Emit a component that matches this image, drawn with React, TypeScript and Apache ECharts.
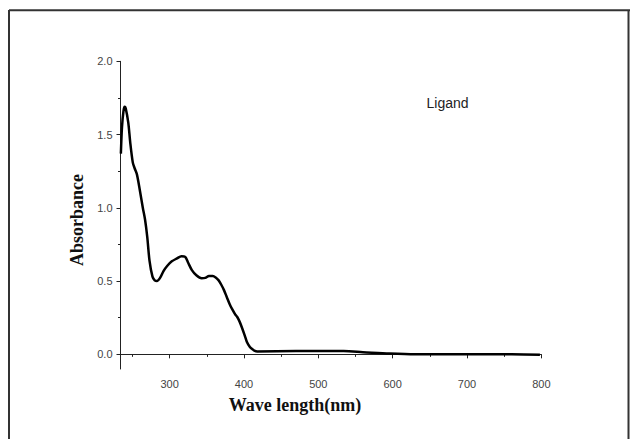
import React, { useEffect, useRef } from "react";
import * as echarts from "echarts";

const wavelengths = [
  234.5, 236, 238, 239.5, 241, 244.5, 247, 250.5, 253, 256,
  260, 264, 267, 270, 273, 277, 280, 283, 287, 292,
  297, 303, 310, 316, 321, 325, 330, 336, 343, 348,
  353, 358, 362, 366, 369, 373, 377, 381, 384, 388,
  391, 394, 397, 401, 404, 408, 411, 414, 418, 470,
  534, 560, 596, 630, 700, 760, 798,
];
const absorbance = [
  1.37, 1.55, 1.66, 1.69, 1.68, 1.58, 1.45, 1.31, 1.27, 1.23,
  1.12, 1.0, 0.92, 0.8, 0.64, 0.53, 0.505, 0.5, 0.52, 0.57,
  0.605, 0.635, 0.655, 0.67, 0.665, 0.625, 0.575, 0.54, 0.52, 0.522,
  0.535, 0.535, 0.525, 0.505, 0.48, 0.44, 0.39, 0.34, 0.31, 0.275,
  0.255, 0.225, 0.187, 0.13, 0.084, 0.05, 0.037, 0.025, 0.02, 0.022,
  0.022, 0.015, 0.005, 0.0, 0.0, 0.0, -0.002,
];
const xMajorTicks = [300, 400, 500, 600, 700, 800];
const xMinorTicks = [250, 350, 450, 550, 650, 750];
const yMajorTicks = [0, 0.5, 1.0, 1.5, 2.0];
const yMinorTicks = [0.25, 0.75, 1.25, 1.75];
const seriesName = "Ligand";
const xTitle = "Wave length(nm)";
const yTitle = "Absorbance";

export default function App() {
  const ref = useRef<HTMLDivElement>(null);
  useEffect(() => {
    if (!ref.current) return;
    const chart = echarts.init(ref.current, undefined, { renderer: "svg" });
    const data = wavelengths.map((w, i) => [w, absorbance[i]]);
    const labelStyle = {
      color: "#444",
      fontFamily: "Liberation Sans",
      fontSize: 11,
    };
    const axisLineStyle = { color: "#222", width: 1 };
    chart.setOption({
      animation: false,
      backgroundColor: "#fff",
      grid: { left: 120.5, top: 61.3, right: 88.6, bottom: 70, containLabel: false },
      xAxis: [
        {
          type: "value",
          min: 234,
          max: 800,
          position: "bottom",
          axisLine: { show: true, lineStyle: axisLineStyle },
          axisTick: { show: true, length: 4, inside: false, customValues: xMajorTicks, lineStyle: axisLineStyle },
          axisLabel: { ...labelStyle, margin: 9, customValues: xMajorTicks, formatter: (v: number) => String(v) },
          splitLine: { show: false },
        },
        {
          type: "value",
          min: 234,
          max: 800,
          position: "bottom",
          axisLine: { show: false },
          axisTick: { show: true, length: 2.5, inside: false, customValues: xMinorTicks, lineStyle: axisLineStyle },
          axisLabel: { show: false },
          splitLine: { show: false },
        },
      ],
      yAxis: [
        {
          type: "value",
          min: -0.1,
          max: 2.0,
          position: "left",
          axisLine: { show: true, lineStyle: axisLineStyle },
          axisTick: { show: true, length: 4, inside: false, customValues: yMajorTicks, lineStyle: axisLineStyle },
          axisLabel: { ...labelStyle, margin: 8, customValues: yMajorTicks, formatter: (v: number) => v.toFixed(1) },
          splitLine: { show: false },
        },
        {
          type: "value",
          min: -0.1,
          max: 2.0,
          position: "left",
          axisLine: { show: false },
          axisTick: { show: true, length: 2.5, inside: false, customValues: yMinorTicks, lineStyle: axisLineStyle },
          axisLabel: { show: false },
          splitLine: { show: false },
        },
      ],
      series: [
        {
          name: seriesName,
          type: "line",
          data,
          showSymbol: false,
          smooth: 0.3,
          lineStyle: { color: "#000", width: 2.5 },
          xAxisIndex: 0,
          yAxisIndex: 0,
        },
      ],
      graphic: [
        { type: "line", shape: { x1: 9, y1: 10.3, x2: 630, y2: 10.3 }, style: { stroke: "#333", lineWidth: 2 } },
        { type: "line", shape: { x1: 9, y1: 10, x2: 9, y2: 439 }, style: { stroke: "#333", lineWidth: 2 } },
        { type: "line", shape: { x1: 628.5, y1: 10, x2: 628.5, y2: 439 }, style: { stroke: "#333", lineWidth: 2 } },
        {
          type: "text",
          x: 426.5,
          y: 103,
          style: { text: seriesName, fontFamily: "Liberation Sans", fontSize: 14, fill: "#222", align: "left", verticalAlign: "middle" },
        },
        {
          type: "text",
          x: 295,
          y: 405,
          style: { text: xTitle, fontFamily: "Liberation Serif", fontWeight: "bold", fontSize: 18, fill: "#111", align: "center", verticalAlign: "middle" },
        },
        {
          type: "text",
          x: 77,
          y: 220,
          rotation: Math.PI / 2,
          style: { text: yTitle, fontFamily: "Liberation Serif", fontWeight: "bold", fontSize: 18, fill: "#111", align: "center", verticalAlign: "middle" },
        },
      ],
    });
    return () => chart.dispose();
  }, []);
  return (
    <div
      ref={ref}
      style={{ position: "absolute", left: 0, top: 0, width: 630, height: 439 }}
    />
  );
}
